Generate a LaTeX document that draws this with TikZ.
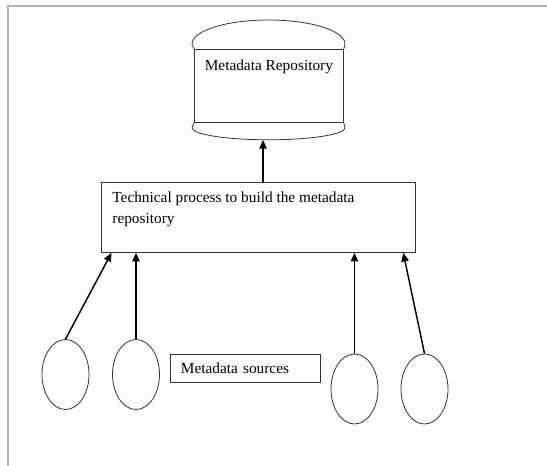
\documentclass[tikz,border=0pt]{standalone}
\usepackage{fontspec}
\setmainfont{Liberation Serif}
\usetikzlibrary{arrows.meta,shapes.geometric,calc}
\begin{document}
\begin{tikzpicture}[x=0.75pt,y=-0.75pt,
  every node/.style={font=\fontsize{11.5}{15.75}\selectfont},
  box/.style={draw=black!80, line width=0.6pt},
  src/.style={ellipse, draw=black!80, line width=0.6pt, minimum width=35.25pt, minimum height=52.5pt, inner sep=0pt},
  arr/.style={line width=1.1pt, -{Triangle[length=6.5pt,width=5.5pt]}}
]
\useasboundingbox (0,0) rectangle (547,466);
\fill[white] (0,0) rectangle (547,466);
\draw[gray!60, line width=1pt] (8,466) -- (8,6) -- (547,6);

% repository cylinder
\node[box, inner sep=0pt, anchor=north west] (repo) at (194,49)
  {\begin{minipage}[t][54.75pt][t]{111.75pt}\centering\rule{0pt}{15.5pt}Metadata Repository\end{minipage}};
\draw[box] (repo.north west) -- ++(-2,-5) arc[start angle=180,end angle=360,x radius=76.5,y radius=24] -- (repo.north east);
\draw[box] (repo.south west) -- ++(-2,5) arc[start angle=180,end angle=0,x radius=76.5,y radius=12] -- (repo.south east);
\coordinate (capbot) at (263,140);

% process box
\node[box, inner sep=0pt, anchor=north west] (proc) at (101,182)
  {\begin{minipage}[t][52.5pt][t]{235.5pt}\raggedright\leftskip=8.25pt\rule{0pt}{15.4pt}Technical process to build the metadata\\repository\end{minipage}};

% sources
\node[box, anchor=north west, minimum width=112.5pt, minimum height=21pt, inner xsep=7.9pt, text width=96.7pt, align=left] (ms) at (170,354) {Metadata sources};
\node[src] (e1) at (65.5,374.5) {};
\node[src] (e2) at (136,374.5) {};
\node[src] (e3) at (354.5,389) {};
\node[src] (e4) at (424.5,389) {};

% arrows
\draw[arr] (capbot |- proc.north) -- (capbot);
\draw[arr] (e1.north) -- ([xshift=7.9pt]proc.south west);
\draw[arr] (e2.north) -- (e2.north |- proc.south);
\draw[arr] (e3.north) -- (e3.north |- proc.south);
\draw[arr] (e4.north) -- ([xshift=-9.4pt]proc.south east);
\end{tikzpicture}
\end{document}
